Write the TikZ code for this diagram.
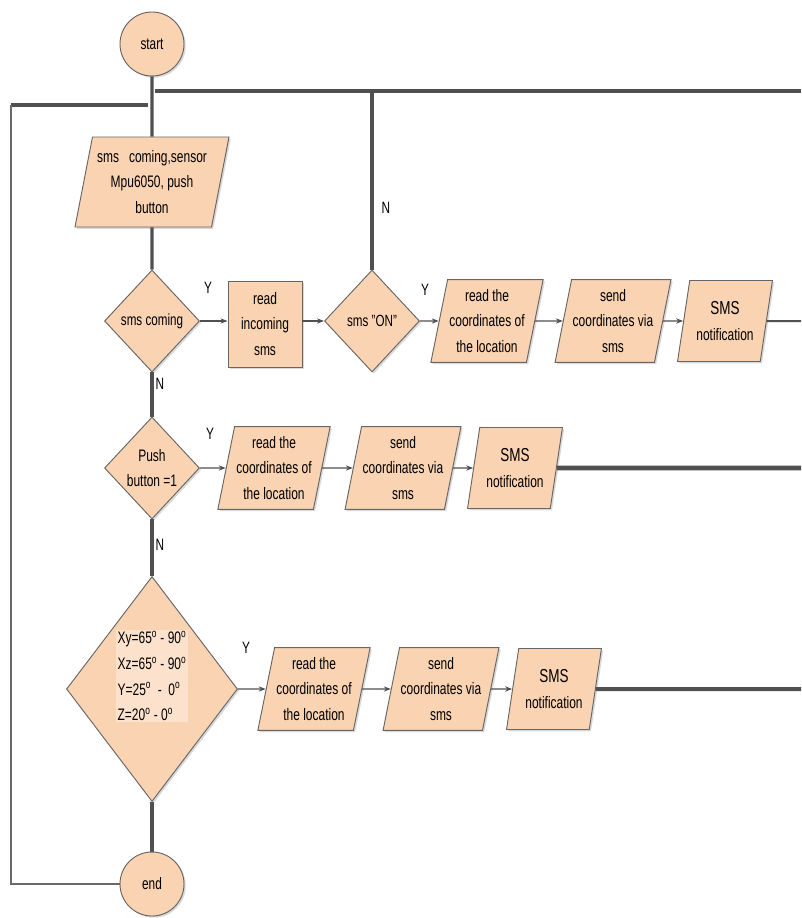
\documentclass[tikz,border=0pt]{standalone}
\usepackage{fontspec}
\setmainfont{Liberation Sans}[FakeStretch=0.72]
\usepackage{tikz}
\usetikzlibrary{arrows.meta,shapes.geometric,shadows}
\definecolor{boxfill}{HTML}{F9D3B2}
\definecolor{boxline}{HTML}{666666}
\definecolor{flowc}{HTML}{505050}
\definecolor{txtbg}{HTML}{FCE2CC}
\tikzset{
  base/.style={draw=boxline,fill=boxfill,line width=0.8pt,align=center,inner sep=1pt,
    font=\fontsize{14.2}{22}\selectfont,
    drop shadow={shadow xshift=1.5pt,shadow yshift=-1.5pt,opacity=0.3}},
  term/.style={base,circle,minimum size=1.92cm,font=\fontsize{14}{16}\selectfont},
  decide/.style={base,diamond,inner sep=0pt,minimum width=2.85cm,minimum height=3.06cm},
  procbox/.style={base,rectangle,minimum width=2.22cm,minimum height=2.58cm},
  iobox/.style={base,trapezium,trapezium left angle=76,trapezium right angle=104,
    trapezium stretches=true,minimum width=3.4cm,minimum height=2.48cm},
  smsbox/.style={iobox,minimum width=2.85cm,minimum height=2.43cm},
  flow/.style={draw=flowc,line width=2.6pt},
  bar/.style={draw=flowc,line width=3.4pt},
  arr/.style={draw=flowc,line width=1.2pt,-{Stealth[length=6pt,width=4.5pt]}},
  backline/.style={draw=flowc!85,line width=1.4pt},
  lbl/.style={font=\fontsize{14}{16}\selectfont}
}

\begin{document}
\begin{tikzpicture}[x=0.03cm,y=-0.03cm]
  \useasboundingbox (0,0) rectangle (801,918);
  % main column
  \node[term] (start) at (152,44) {start};
  \node[iobox,minimum width=4.62cm,minimum height=2.7cm] (input) at (152,182)
    {sms\ \ \ coming,sensor\\Mpu6050, push\\button};
  \node[decide,font=\fontsize{13.8}{16}\selectfont] (c1) at (152,321) {sms coming};
  \node[procbox] (rd) at (265,324) {read\\incoming\\sms};
  \node[decide,font=\fontsize{13.8}{16}\selectfont] (c2) at (372,321) {sms "ON"};
  \node[decide] (c3) at (152,468) {Push\\button =1};
  \node[decide,minimum width=5.13cm,minimum height=6.75cm] (c4) at (152,689) {};
  \node[fill=txtbg,align=left,inner sep=1pt,font=\fontsize{14.2}{22}\selectfont] (c4txt) at (152,676)
    {Xy=65\textsuperscript{o} - 90\textsuperscript{o}\\
     Xz=65\textsuperscript{o} - 90\textsuperscript{o}\\
     Y=25\textsuperscript{o} \ - \ 0\textsuperscript{o}\\
     Z=20\textsuperscript{o} - 0\textsuperscript{o}};
  \node[term] (end) at (152,884) {end};
  % bars and loop back
  \coordinate (tl) at (155,91);
  \coordinate (tr) at (801,91);
  \coordinate (ll) at (11,105);
  \coordinate (lr) at (148,105);
  \draw[bar] (tl) -- (tr);
  \draw[bar] (ll) -- (lr);
  \draw[backline] (ll) |- (end.west);
  \draw[flow] (start) -- (input);
  \draw[flow] (input) -- (c1);
  \draw[flow] (c1) -- (c3);
  \draw[flow] (c3) -- (c4);
  \draw[flow] (c4) -- (end);
  \draw[flow] (c2.north) -- (c2.north |- tl);
  \draw[arr] (c1.east) -- (c1.east -| rd.west);
  \draw[arr] (c2.west -| rd.east) -- (c2.west);
  % output rows
  \foreach \r/\cond/\xa/\xb/\xc/\y/\lw in {1/c2/487/613/725/321/1.7pt,
      2/c3/274/403/515/468/4.2pt, 3/c4/314/441/554/689/3.4pt} {
    \node[iobox] (read\r) at (\xa,\y) {read the\\coordinates of\\the location};
    \node[iobox] (send\r) at (\xb,\y) {send\\coordinates via\\sms};
    \node[smsbox] (sms\r) at (\xc,\y) {{\fontsize{16}{22}\selectfont SMS}\\notification};
    \coordinate (out\r) at (801,\y);
    \draw[arr] (\cond.east) -- (read\r.west);
    \draw[arr] (read\r.east) -- (send\r.west);
    \draw[arr] (send\r.east) -- (sms\r.west);
    \draw[draw=flowc,line width=\lw] (sms\r.east) -- (out\r);
  }
  % labels
  \node[lbl] (y1) at (208,288) {Y};
  \node[lbl] (y2) at (425,290) {Y};
  \node[lbl] (y3) at (210,434) {Y};
  \node[lbl] (y4) at (246,648) {Y};
  \node[lbl] (n1) at (386,208) {N};
  \node[lbl] (n2) at (160,384) {N};
  \node[lbl] (n3) at (160,545) {N};
\end{tikzpicture}
\end{document}
